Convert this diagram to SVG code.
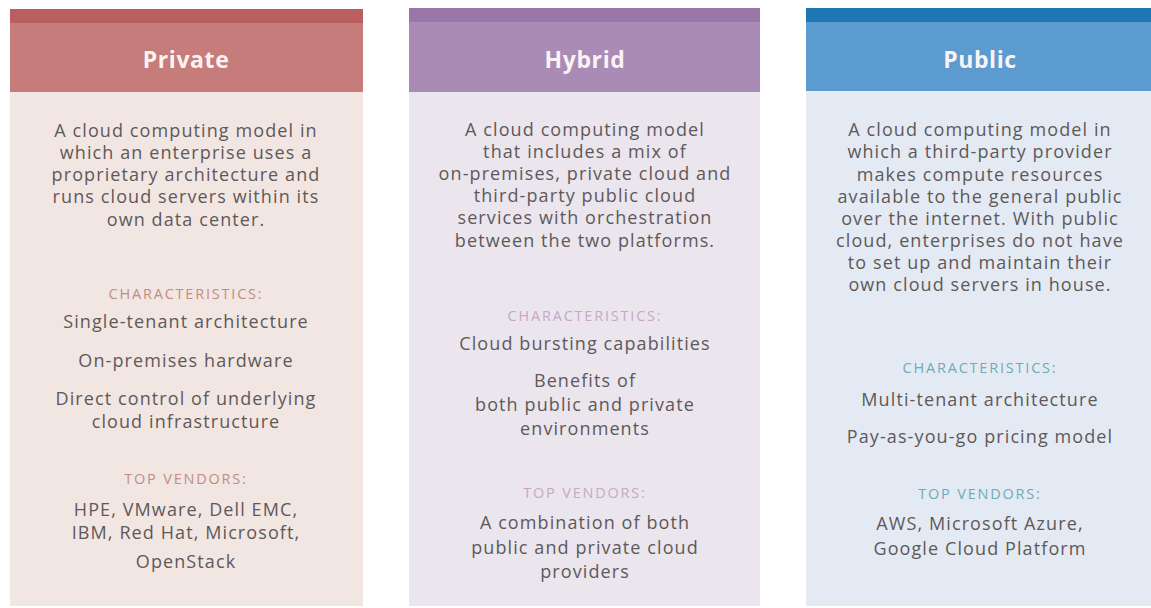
<svg xmlns="http://www.w3.org/2000/svg" width="1151" height="608" viewBox="0 0 1151 608">
<style>
.t{font-family:"Open Sans","Liberation Sans",sans-serif;font-size:18px;letter-spacing:1.1px;fill:#5e5959;text-anchor:middle}
.h{font-family:"Open Sans","Liberation Sans",sans-serif;font-size:23px;font-weight:bold;letter-spacing:0.6px;fill:#fbf3f3;text-anchor:middle}
.c{font-family:"Open Sans","Liberation Sans",sans-serif;font-size:14.5px;text-anchor:middle;letter-spacing:1.8px}
</style>
<rect width="1151" height="608" fill="#ffffff"/>
<g id="private">
<rect x="10" y="9" width="353" height="597" fill="#f2e6e3"/>
<rect x="10" y="9" width="353" height="83" fill="#c57c7a"/>
<rect x="10" y="9" width="353" height="14" fill="#b95f5f"/>
<text class="h" x="186" y="68">Private</text>
<text class="t" x="186" y="137">A cloud computing model in</text>
<text class="t" x="186" y="159">which an enterprise uses a</text>
<text class="t" x="186" y="181">proprietary architecture and</text>
<text class="t" x="186" y="203">runs cloud servers within its</text>
<text class="t" x="186" y="226">own data center.</text>
<text class="c" x="186" y="299" fill="#bf8d84">CHARACTERISTICS:</text>
<text class="t" x="186" y="328">Single-tenant architecture</text>
<text class="t" x="186" y="367">On-premises hardware</text>
<text class="t" x="186" y="405">Direct control of underlying</text>
<text class="t" x="186" y="428">cloud infrastructure</text>
<text class="c" x="186" y="484" fill="#bf8d84">TOP VENDORS:</text>
<text class="t" x="186" y="516">HPE, VMware, Dell EMC,</text>
<text class="t" x="186" y="539">IBM, Red Hat, Microsoft,</text>
<text class="t" x="186" y="568">OpenStack</text>
</g>
<g id="hybrid">
<rect x="409" y="8" width="351" height="598" fill="#ebe5ee"/>
<rect x="409" y="8" width="351" height="84" fill="#a98bb6"/>
<rect x="409" y="8" width="351" height="14" fill="#9a75a7"/>
<text class="h" x="585" y="68">Hybrid</text>
<text class="t" x="585" y="136">A cloud computing model</text>
<text class="t" x="585" y="158">that includes a mix of</text>
<text class="t" x="585" y="180">on-premises, private cloud and</text>
<text class="t" x="585" y="202">third-party public cloud</text>
<text class="t" x="585" y="224">services with orchestration</text>
<text class="t" x="585" y="247">between the two platforms.</text>
<text class="c" x="585" y="321" fill="#c8a8c4">CHARACTERISTICS:</text>
<text class="t" x="585" y="350">Cloud bursting capabilities</text>
<text class="t" x="585" y="387">Benefits of</text>
<text class="t" x="585" y="411">both public and private</text>
<text class="t" x="585" y="435">environments</text>
<text class="c" x="585" y="498" fill="#c8a8c4">TOP VENDORS:</text>
<text class="t" x="585" y="529">A combination of both</text>
<text class="t" x="585" y="554">public and private cloud</text>
<text class="t" x="585" y="578">providers</text>
</g>
<g id="public">
<rect x="806" y="8" width="345" height="598" fill="#e4eaf3"/>
<rect x="806" y="8" width="345" height="83" fill="#5b9bd0"/>
<rect x="806" y="8" width="345" height="14" fill="#1e77b3"/>
<text class="h" x="980" y="68">Public</text>
<text class="t" x="980" y="136">A cloud computing model in</text>
<text class="t" x="980" y="158">which a third-party provider</text>
<text class="t" x="980" y="181">makes compute resources</text>
<text class="t" x="980" y="203">available to the general public</text>
<text class="t" x="980" y="225">over the internet. With public</text>
<text class="t" x="980" y="247">cloud, enterprises do not have</text>
<text class="t" x="980" y="269">to set up and maintain their</text>
<text class="t" x="980" y="291">own cloud servers in house.</text>
<text class="c" x="980" y="373" fill="#6eaab8">CHARACTERISTICS:</text>
<text class="t" x="980" y="406">Multi-tenant architecture</text>
<text class="t" x="980" y="443">Pay-as-you-go pricing model</text>
<text class="c" x="980" y="499" fill="#6eaab8">TOP VENDORS:</text>
<text class="t" x="980" y="530">AWS, Microsoft Azure,</text>
<text class="t" x="980" y="555">Google Cloud Platform</text>
</g>
</svg>
